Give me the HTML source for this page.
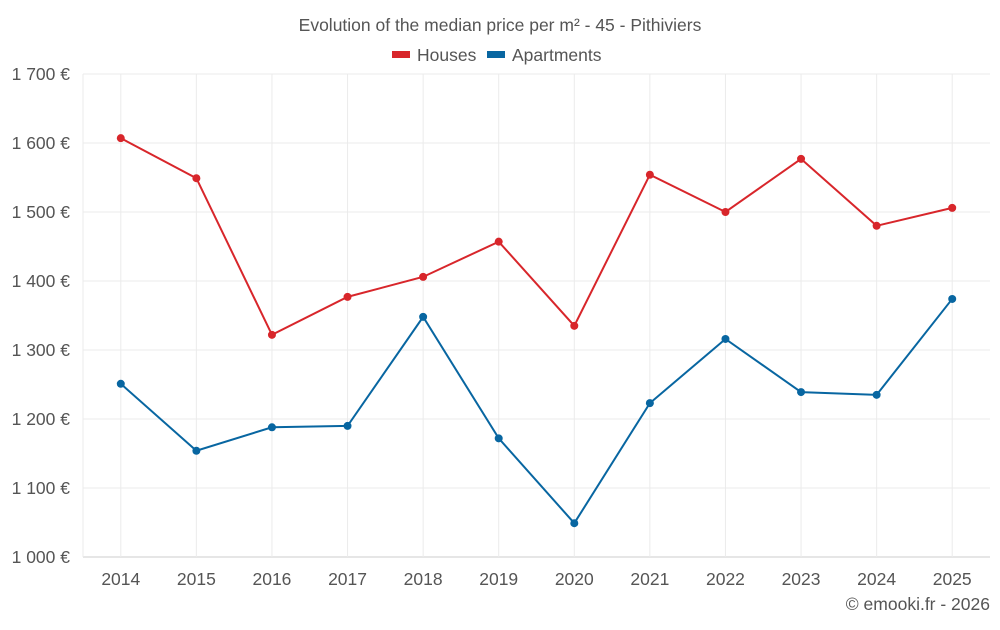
<!DOCTYPE html>
<html><head><meta charset="utf-8"><style>
body{margin:0;background:#fff;font-family:"Liberation Sans",sans-serif;}
svg text{font-family:"Liberation Sans",sans-serif;fill:#555;}
</style></head><body>
<svg id="chart" width="1000" height="625">
<text x="500" y="31" text-anchor="middle" font-size="17.5">Evolution of the median price per m² - 45 - Pithiviers</text>
<g>
<rect x="392" y="51" width="18" height="7" fill="#d8262b"/>
<text x="417" y="61" font-size="17.5">Houses</text>
<rect x="487" y="51" width="18" height="7" fill="#0866a1"/>
<text x="512" y="61" font-size="17.5">Apartments</text>
</g>
<g id="grid"></g><g id="axes"></g><g id="series"></g>
<text x="990" y="610" text-anchor="end" font-size="17.5">© emooki.fr - 2026</text>
</svg>
<script>
const years=["2014","2015","2016","2017","2018","2019","2020","2021","2022","2023","2024","2025"];
const houses=[1607,1549,1322,1377,1406,1457,1335,1554,1500,1577,1480,1506];
const apartments=[1251,1154,1188,1190,1348,1172,1049,1223,1316,1239,1235,1374];
const yTicks=[1000,1100,1200,1300,1400,1500,1600,1700];
const yLabels=["1 000 €","1 100 €","1 200 €","1 300 €","1 400 €","1 500 €","1 600 €","1 700 €"];
const NS="http://www.w3.org/2000/svg";
const L=83,R=990,T=74,B=557,ymin=1000,ymax=1700;
const bw=(R-L)/years.length;
const xs=i=>L+bw*(i+0.5);
const ys=v=>B-(v-ymin)/(ymax-ymin)*(B-T);
function mk(t,a,p){const e=document.createElementNS(NS,t);for(const k in a)e.setAttribute(k,a[k]);p.appendChild(e);return e;}
const grid=document.getElementById('grid'),axes=document.getElementById('axes'),ser=document.getElementById('series');
yTicks.forEach((v,i)=>{
 const l=mk('line',{x1:L,x2:R,y1:ys(v),y2:ys(v),stroke:i==0?'#ccc':'#ebebeb','stroke-width':1},grid);
 
 
 const t=mk('text',{x:70,y:ys(v)+6,'text-anchor':'end','font-size':17.5},axes);
 t.textContent=yLabels[i];
 
 
});
const lv=mk('line',{x1:L,x2:L,y1:T,y2:B,stroke:'#ebebeb'},grid);


years.forEach((y,i)=>{
 const g=mk('line',{x1:xs(i),x2:xs(i),y1:T,y2:B,stroke:'#ebebeb'},grid);
 
 
 const t=mk('text',{x:xs(i),y:585,'text-anchor':'middle','font-size':17.5},axes);
 t.textContent=y;
 
 
});
function draw(vals,col,name){
 const p=mk('polyline',{points:vals.map((v,i)=>xs(i)+','+ys(v)).join(' '),fill:'none',stroke:col,'stroke-width':2},ser);
 
 
 vals.forEach((v,i)=>{
  const c=mk('circle',{cx:xs(i),cy:ys(v),r:4,fill:col},ser);
  
  
 });
}
draw(houses,'#d8262b','houses');
draw(apartments,'#0866a1','apartments');
</script>
</body></html>
